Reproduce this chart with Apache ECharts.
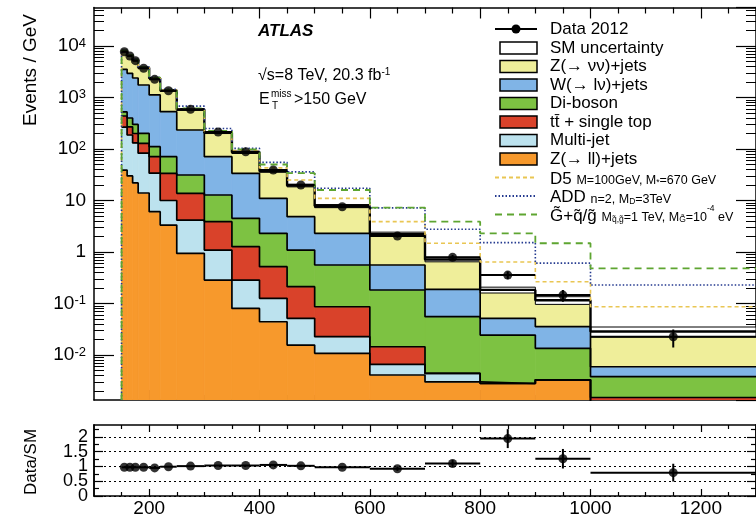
<!DOCTYPE html>
<html>
<head>
<meta charset="utf-8">
<script src="https://cdn.jsdelivr.net/npm/echarts@6/dist/echarts.min.js"></script>
<style>
html, body { margin: 0; padding: 0; background: #fff; }
#chart { width: 756px; height: 518px; }
</style>
</head>
<body>
<div id="chart"></div>
<script>
// bins in E_T^miss (GeV)
var edges = [150, 160, 170, 180, 200, 220, 250, 300, 350, 400, 450, 500, 600, 700, 800, 900, 1000, 1300];
var centers = [155, 165, 175, 190, 210, 235, 275, 325, 375, 425, 475, 550, 650, 750, 850, 950, 1150];

// data 2012, events / GeV, with stat errors
var data2012 = [7750, 6390, 5190, 3690, 2255, 1355, 590, 214, 88.7, 39.1, 20.0, 7.58, 2.05, 0.789, 0.357, 0.146, 0.0227];
var dataErr = [28, 25, 23, 14, 11, 7, 3.4, 2, 1.3, 0.9, 0.6, 0.28, 0.14, 0.09, 0.06, 0.038, 0.0087];

// stacked backgrounds: top edge of each layer, events / GeV
var zllTop = [39, 30, 22, 14, 6.06, 3.34, 0.94, 0.286, 0.0805, 0.0443, 0.0156, 0.0108, 0.0041, 0.0030, 0.0028, 0.0033, 0.0008];
var multijetTop = [267, 187, 131, 83, 34, 10, 4.18, 1.09, 0.286, 0.126, 0.0516, 0.0227, 0.0066, 0.0044, 0.0028, 0.0033, 0.0010];
var topTop = [437, 270, 200, 129, 71, 33.6, 13.8, 3.88, 1.27, 0.519, 0.212, 0.0867, 0.0145, 0.0044, 0.0028, 0.0033, 0.0015];
var dibosonTop = [525, 400, 300, 201, 111, 71, 31.3, 12.8, 4.51, 2.31, 1.09, 0.56, 0.183, 0.0555, 0.0244, 0.0135, 0.0038];
var wlnuTop = [3530, 2950, 2390, 1750, 1120, 530, 234, 70.9, 33.8, 11.0, 4.85, 2.31, 0.56, 0.188, 0.0516, 0.0355, 0.00593];
var znunuTop = [7990, 6590, 5350, 3800, 2370, 1370, 584, 208, 86.1, 37.2, 19.6, 7.81, 2.23, 0.717, 0.184, 0.116, 0.0287];
var smUncRel = [0.03, 0.03, 0.03, 0.03, 0.03, 0.03, 0.035, 0.04, 0.05, 0.05, 0.06, 0.07, 0.09, 0.10, 0.13, 0.17, 0.22];

// signal + SM
var d5Line = [8050, 6650, 5400, 3840, 2400, 1390, 598, 217, 93, 43, 25, 11.0, 3.9, 1.48, 0.64, 0.265, 0.0867];
var addLine = [8150, 6750, 5480, 3900, 2460, 1440, 680, 250, 103, 55, 36, 17.3, 7.2, 2.76, 1.52, 0.61, 0.229];
var gmsbLine = [8100, 6700, 5450, 3880, 2440, 1420, 615, 225, 98, 50, 34, 16.0, 7.3, 3.88, 2.31, 1.48, 0.48];

// ratio panel
var ratio = [0.97, 0.97, 0.97, 0.97, 0.95, 0.99, 1.01, 1.03, 1.03, 1.05, 1.02, 0.97, 0.92, 1.10, 1.94, 1.26, 0.79];
var ratioErr = [0.01, 0.01, 0.01, 0.01, 0.01, 0.01, 0.01, 0.015, 0.02, 0.03, 0.04, 0.04, 0.07, 0.12, 0.32, 0.33, 0.30];

var xMajor = [200, 400, 600, 800, 1000, 1200];
var xMinor = [150, 250, 300, 350, 450, 500, 550, 650, 700, 750, 850, 900, 950, 1050, 1100, 1150, 1250, 1300];
var ratioTicks = [0, 0.5, 1, 1.5, 2];
var ratioLabelsA = [0, 1, 2];
var ratioLabelsB = [0.5, 1.5];
var ratioMinor = [0.25, 0.75, 1.25, 1.75, 2.25];

var yMin = 0.00134, yMax = 55900;
var FONT = '"Liberation Sans", Arial, Helvetica, sans-serif';

var logMinor = [];
for (var p = -3; p <= 4; p++) {
    for (var k = 2; k <= 9; k++) {
        var lv = Math.log10(k) + p;
        if (lv > Math.log10(yMin) && lv < Math.log10(yMax)) logMinor.push(lv);
    }
}

function stepPoints(vals) {
    return edges.map(function (e, i) { return [e, vals[Math.min(i, vals.length - 1)]]; });
}

function binRects(lo, hi) {
    return centers.map(function (c, i) {
        return [edges[i], edges[i + 1], lo ? lo[i] : yMin, hi[i]];
    });
}

function rectRender(fill, stroke) {
    return function (params, api) {
        var a = api.coord([api.value(0), api.value(3)]);
        var b = api.coord([api.value(1), api.value(2)]);
        return {
            type: 'rect',
            shape: { x: a[0], y: a[1], width: b[0] - a[0], height: b[1] - a[1] },
            style: { fill: fill, stroke: stroke || fill, lineWidth: stroke ? 1 : 0.8 }
        };
    };
}

function errRender(params, api) {
    var y = api.value(3), e = api.value(4);
    var l = api.coord([api.value(1), y]);
    var r = api.coord([api.value(2), y]);
    var up = api.coord([api.value(0), y + e]);
    var dn = api.coord([api.value(0), Math.max(y - e, 1e-6)]);
    return {
        type: 'group',
        children: [
            { type: 'line', shape: { x1: l[0], y1: l[1], x2: r[0], y2: r[1] }, style: { stroke: '#000', lineWidth: 2 } },
            { type: 'line', shape: { x1: up[0], y1: up[1], x2: dn[0], y2: dn[1] }, style: { stroke: '#000', lineWidth: 2 } }
        ]
    };
}

function xAx(grid, pos, ticks, len, showLine, labels) {
    return {
        type: 'value', gridIndex: grid, position: pos, min: 100, max: 1300,
        axisLine: { show: showLine, onZero: false, lineStyle: { color: '#000', width: 1.5 } },
        axisTick: { inside: true, length: len, customValues: ticks, lineStyle: { color: '#000', width: 1.2 } },
        axisLabel: labels ? {
            customValues: xMajor, fontSize: 19, fontFamily: FONT, color: '#000', margin: 3,
            formatter: function (v) { return String(v); }
        } : { show: false },
        splitLine: { show: false }
    };
}

function yLog(pos, labels) {
    return {
        type: 'log', gridIndex: 0, position: pos, min: yMin, max: yMax, logBase: 10,
        axisLine: { show: true, onZero: false, lineStyle: { color: '#000', width: 1.5 } },
        axisTick: { inside: true, length: 20, lineStyle: { color: '#000', width: 1.2 } },
        axisLabel: labels ? {
            showMinLabel: false, showMaxLabel: false, fontSize: 19, fontFamily: FONT, color: '#000', margin: 8,
            formatter: function (v) {
                var e = Math.round(Math.log10(v));
                if (e === 0) return '1';
                if (e === 1) return '10';
                return '10{sup|' + e + '}';
            },
            rich: { sup: { fontSize: 13, fontFamily: FONT, color: '#000', verticalAlign: 'top', lineHeight: 12 } }
        } : { show: false },
        splitLine: { show: false }
    };
}

function yLogMinor(pos) {
    return {
        type: 'value', gridIndex: 0, position: pos, min: Math.log10(yMin), max: Math.log10(yMax),
        axisLine: { show: false, onZero: false },
        axisTick: { inside: true, length: 10, customValues: logMinor, lineStyle: { color: '#000', width: 1 } },
        axisLabel: { show: false },
        splitLine: { show: false }
    };
}

function yRatio(pos, ticks, len, labels, grid) {
    return {
        type: 'value', gridIndex: 1, position: pos, min: 0, max: 2.4,
        axisLine: { show: true, onZero: false, lineStyle: { color: '#000', width: 1.5 } },
        axisTick: { inside: true, length: len, customValues: ticks, lineStyle: { color: '#000', width: 1.2 } },
        axisLabel: labels ? {
            customValues: labels, fontSize: 18, fontFamily: FONT, color: '#000', margin: 6,
            showMinLabel: true, showMaxLabel: true,
            formatter: function (v) { return String(v); }
        } : { show: false },
        splitLine: grid ? { show: true, lineStyle: { color: '#000', type: [2, 3], width: 1 } } : { show: false }
    };
}

var layers = [
    { top: zllTop, lo: null, color: '#f7992c' },
    { top: multijetTop, lo: zllTop, color: '#bce2ee' },
    { top: topTop, lo: multijetTop, color: '#d9422a' },
    { top: dibosonTop, lo: topTop, color: '#7dc242' },
    { top: wlnuTop, lo: dibosonTop, color: '#80b4e6' },
    { top: znunuTop, lo: wlnuTop, color: '#efee9a' }
];

var series = [];
layers.forEach(function (ly) {
    series.push({
        type: 'custom', xAxisIndex: 0, yAxisIndex: 0, clip: true, z: 1, silent: true,
        renderItem: rectRender(ly.color), encode: { x: [0, 1], y: [2, 3] },
        data: binRects(ly.lo, ly.top)
    });
});
series.push({
    type: 'custom', xAxisIndex: 0, yAxisIndex: 0, clip: true, z: 2, silent: true,
    renderItem: rectRender('#fff', '#000'), encode: { x: [0, 1], y: [2, 3] },
    data: centers.map(function (c, i) {
        return [edges[i], edges[i + 1], znunuTop[i] * (1 - smUncRel[i]), znunuTop[i] * (1 + smUncRel[i])];
    })
});
layers.forEach(function (ly, j) {
    series.push({
        type: 'line', xAxisIndex: 0, yAxisIndex: 0, step: 'end', symbol: 'none', z: 3, silent: true,
        lineStyle: { color: '#000', width: j === layers.length - 1 ? 2.4 : 1.7 },
        data: stepPoints(ly.top)
    });
});
[
    { vals: d5Line, color: '#e9c653', dash: [4, 3], w: 1.6 },
    { vals: addLine, color: '#23398f', dash: [1.5, 2], w: 1.6 },
    { vals: gmsbLine, color: '#5ea531', dash: [7, 5], w: 1.8 }
].forEach(function (s) {
    series.push({
        type: 'line', xAxisIndex: 0, yAxisIndex: 0, step: 'end', symbol: 'none', z: 4, silent: true,
        lineStyle: { color: s.color, width: s.w, type: s.dash },
        data: [[edges[0], yMin]].concat(stepPoints(s.vals))
    });
});
series.push({
    type: 'custom', xAxisIndex: 0, yAxisIndex: 0, clip: true, z: 5, silent: true,
    renderItem: errRender, encode: { x: [0, 1, 2], y: [3] },
    data: centers.map(function (c, i) { return [c, edges[i], edges[i + 1], data2012[i], dataErr[i]]; })
});
series.push({
    type: 'scatter', xAxisIndex: 0, yAxisIndex: 0, z: 6, symbolSize: 9, silent: true,
    itemStyle: { color: '#000' },
    data: centers.map(function (c, i) { return [c, data2012[i]]; })
});
series.push({
    type: 'custom', xAxisIndex: 4, yAxisIndex: 4, clip: true, z: 5, silent: true,
    renderItem: errRender, encode: { x: [0, 1, 2], y: [3] },
    data: centers.map(function (c, i) { return [c, edges[i], edges[i + 1], ratio[i], ratioErr[i]]; })
});
series.push({
    type: 'scatter', xAxisIndex: 4, yAxisIndex: 4, z: 6, symbolSize: 9, silent: true,
    itemStyle: { color: '#000' },
    data: centers.map(function (c, i) { return [c, ratio[i]]; })
});

// legend and labels
var LX = 500, TX = 550;
var rows = [29, 48, 66.5, 85, 103.5, 122, 140.5, 159, 177.5, 196, 214.5];
function box(y, fill) {
    return { type: 'rect', shape: { x: LX, y: y - 6, width: 37, height: 12 }, style: { fill: fill, stroke: '#000', lineWidth: 1.5 } };
}
function txt(x, y, text, size, extra) {
    var st = { text: text, x: x, y: y, fontSize: size, fontFamily: FONT, fill: '#000', verticalAlign: 'middle', align: 'left' };
    if (extra) for (var key in extra) st[key] = extra[key];
    return { type: 'text', style: st };
}
function vtxt(x, y, text, size) {
    return {
        type: 'text', x: x, y: y, rotation: Math.PI / 2,
        style: { text: text, x: 0, y: 0, fontSize: size, fontFamily: FONT, fill: '#000', verticalAlign: 'middle', align: 'center' }
    };
}
var richSmall = {
    b: { fontSize: 17, fontFamily: FONT, fill: '#000', lineHeight: 20, verticalAlign: 'bottom' },
    s: { fontSize: 12.5, fontFamily: FONT, fill: '#000', lineHeight: 17, verticalAlign: 'bottom' },
    sub: { fontSize: 8.5, fontFamily: FONT, fill: '#000', lineHeight: 11, verticalAlign: 'bottom' },
    sup: { fontSize: 8.5, fontFamily: FONT, fill: '#000', lineHeight: 11, verticalAlign: 'top' }
};

var graphics = [
    { type: 'line', shape: { x1: 495, y1: rows[0], x2: 537, y2: rows[0] }, style: { stroke: '#000', lineWidth: 2 } },
    { type: 'circle', shape: { cx: 516, cy: rows[0], r: 4.5 }, style: { fill: '#000' } },
    txt(TX, rows[0], 'Data 2012', 17),
    box(rows[1], '#fff'), txt(TX, rows[1], 'SM uncertainty', 17),
    box(rows[2], '#efee9a'), txt(TX, rows[2], 'Z(\u2192 \u03bd\u03bd)+jets', 17),
    box(rows[3], '#80b4e6'), txt(TX, rows[3], 'W(\u2192 l\u03bd)+jets', 17),
    box(rows[4], '#7dc242'), txt(TX, rows[4], 'Di-boson', 17),
    box(rows[5], '#d9422a'), txt(TX, rows[5], 't\u0074\u0304 + single top', 17),
    box(rows[6], '#bce2ee'), txt(TX, rows[6], 'Multi-jet', 17),
    box(rows[7], '#f7992c'), txt(TX, rows[7], 'Z(\u2192 ll)+jets', 17),
    { type: 'line', shape: { x1: 495, y1: rows[8], x2: 537, y2: rows[8] }, style: { stroke: '#e9c653', lineWidth: 1.8, lineDash: [4, 3] } },
    txt(TX, rows[8], '{b|D5} {s|M=100GeV, M}{sub|*}{s|=670 GeV}', 17, { rich: richSmall }),
    { type: 'line', shape: { x1: 495, y1: rows[9], x2: 537, y2: rows[9] }, style: { stroke: '#23398f', lineWidth: 1.8, lineDash: [1.5, 2] } },
    txt(TX, rows[9], '{b|ADD} {s|n=2, M}{sub|D}{s|=3TeV}', 17, { rich: richSmall }),
    { type: 'line', shape: { x1: 495, y1: rows[10], x2: 537, y2: rows[10] }, style: { stroke: '#5ea531', lineWidth: 1.8, lineDash: [7, 5] } },
    txt(TX, rows[10], '{b|G\u0303+q\u0303/g\u0303} {s|M}{sub|q\u0303,g\u0303}{s|=1 TeV, M}{sub|G\u0303}{s|=10}{sup|-4}{s| eV}', 17, { rich: richSmall }),

    txt(258, 31.5, 'ATLAS', 17, { fontWeight: 'bold', fontStyle: 'italic' }),
    txt(258, 76, '{n|\u221as=8 TeV, 20.3 fb}{sup|-1}', 16, {
        rich: {
            n: { fontSize: 16, fontFamily: FONT, fill: '#000', lineHeight: 18 },
            sup: { fontSize: 10, fontFamily: FONT, fill: '#000', lineHeight: 10, verticalAlign: 'top' }
        }
    }),
    txt(259, 100, 'E', 16),
    txt(271, 94, 'miss', 10),
    txt(272, 106, 'T', 10),
    txt(294, 100, '>150 GeV', 16),

    vtxt(31, 70, 'Events / GeV', 19),
    vtxt(31, 462, 'Data/SM', 17)
];
graphics.forEach(function (g) { g.z = 100; g.silent = true; });

var option = {
    animation: false,
    backgroundColor: '#fff',
    grid: [
        { left: 94, top: 7.5, width: 664, height: 392.5 },
        { left: 94, top: 425, width: 664, height: 74.6 }
    ],
    xAxis: [
        xAx(0, 'bottom', xMajor, 10, true, false),
        xAx(0, 'bottom', xMinor, 5, false, false),
        xAx(0, 'top', xMajor, 11, true, false),
        xAx(0, 'top', xMinor, 6, false, false),
        xAx(1, 'bottom', xMajor, 7, true, true),
        xAx(1, 'bottom', xMinor, 4, false, false),
        xAx(1, 'top', xMajor, 7, true, false),
        xAx(1, 'top', xMinor, 4, false, false)
    ],
    yAxis: [
        yLog('left', true),
        yLogMinor('left'),
        yLog('right', false),
        yLogMinor('right'),
        yRatio('left', ratioTicks, 9, ratioLabelsA, true),
        yRatio('left', ratioMinor, 5, ratioLabelsB, false),
        yRatio('right', ratioTicks, 9, null, false),
        yRatio('right', ratioMinor, 5, null, false)
    ],
    series: series,
    graphic: graphics
};

var chart = echarts.init(document.getElementById('chart'), null, { renderer: 'canvas' });
chart.setOption(option);
</script>
</body>
</html>
